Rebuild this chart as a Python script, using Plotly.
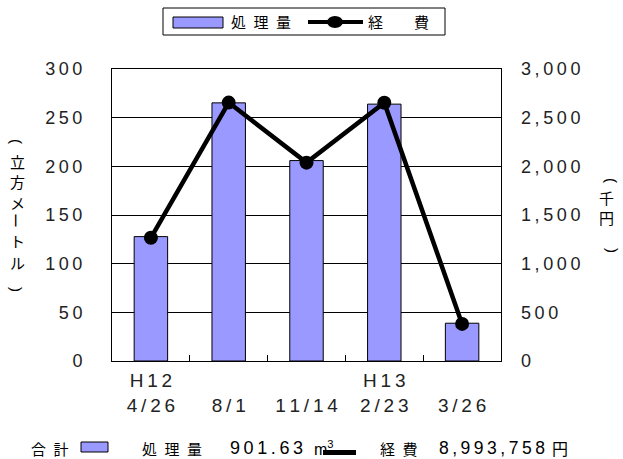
import plotly.graph_objects as go

categories = ["H12<br>4/26", "<br>8/1", "<br>11/14", "H13<br>2/23", "<br>3/26"]
volume = [127.8, 265.2, 205.9, 263.9, 38.83]      # 処理量 (立方メートル)
cost = [1266, 2655, 2038, 2654, 381]              # 経費 (千円)
left_ticks = [0, 50, 100, 150, 200, 250, 300]
right_ticks = [0, 500, 1000, 1500, 2000, 2500, 3000]
left_title = ["(", "立", "方", "メ", "ー", "ト", "ル", ")"]
right_title = ["(", "千", "円", ")"]
ROTATED = {"(", ")", "ー"}

FONT = "Noto Sans CJK JP"
NUM = "Liberation Sans"
BAR = "#9999ff"
SP = "\u2009"
EN = "\u2002"

# plot area in pixels (for converting layout positions)
L, T, W, H = 112, 69, 389, 292


def px(x):
    return (x - L) / W


def py(y):
    return (T + H - y) / H


def spaced(s, sep=SP):
    return sep.join(s)


fig = go.Figure()
fig.add_trace(go.Bar(
    x=categories, y=volume, name="処理量",
    marker=dict(color=BAR, line=dict(color="black", width=1)),
    width=0.43, yaxis="y", showlegend=False,
))
fig.add_trace(go.Scatter(
    x=categories, y=cost, name="経　費", mode="lines+markers",
    line=dict(color="black", width=4.5),
    marker=dict(color="black", size=14),
    yaxis="y2", showlegend=False,
))

fig.update_layout(
    width=623, height=459,
    margin=dict(l=L, r=623 - L - W, t=T, b=459 - T - H, autoexpand=False),
    paper_bgcolor="white", plot_bgcolor="white",
    font=dict(family=FONT, size=14, color="black"),
    showlegend=False,
    xaxis=dict(
        type="category", showgrid=False, ticks="inside", tickson="boundaries",
        ticklen=6, tickcolor="black", showline=True, linecolor="black",
        mirror=True, tickfont=dict(family=NUM, size=19, color="#222"),
        tickvals=categories, tickangle=0, ticklabelstandoff=2,
        ticktext=["<br>".join(spaced(p) for p in c.split("<br>")) for c in categories],
    ),
    yaxis=dict(
        range=[0, 300], tickvals=left_ticks, ticktext=[spaced(str(v)) for v in left_ticks],
        showgrid=True, gridcolor="black",
        gridwidth=1, showline=True, linecolor="black", mirror=True,
        tickfont=dict(family=NUM, size=18, color="#222"),
        ticks="", zeroline=False, ticklabelstandoff=25,
    ),
    yaxis2=dict(
        range=[0, 3000], tickvals=right_ticks,
        ticktext=[spaced(f"{v:,}") for v in right_ticks],
        overlaying="y", side="right",
        showgrid=False, zeroline=False, ticklabelstandoff=19,
        tickfont=dict(family=NUM, size=18, color="#222"),
    ),
)


def note(text, x, y, xanchor="left", font=FONT, size=15, angle=0):
    fig.add_annotation(text=text, xref="paper", yref="paper", x=x, y=y,
                       xanchor=xanchor, yanchor="middle", showarrow=False,
                       textangle=angle,
                       font=dict(family=font, size=size, color="black"), align="center")


def rect(x0, x1, y0, y1, fill, lw=1):
    fig.add_shape(type="rect", xref="paper", yref="paper",
                  x0=px(x0), x1=px(x1), y0=py(y1), y1=py(y0),
                  fillcolor=fill, line=dict(color="black", width=lw))


# ---- manual top legend (wide bar swatch like the reference) ----
rect(163, 445, 8, 35, "white")
rect(173, 223, 17, 28, BAR)
note(spaced("処理量", EN), px(229), py(22))
fig.add_shape(type="line", xref="paper", yref="paper", x0=px(308), x1=px(363),
              y0=py(22), y1=py(22), line=dict(color="black", width=4))
fig.add_shape(type="circle", xref="paper", yref="paper", x0=px(327), x1=px(343),
              y0=py(28), y1=py(16), fillcolor="black", line=dict(color="black", width=0))
note("経", px(366), py(22))
note("費", px(412), py(22))


# ---- vertical axis titles (one character per row) ----
def vchar(ch, x, y):
    if ch in ROTATED:
        note(ch, px(x), py(y), "center", font=NUM if ch in "()" else FONT,
             size=15, angle=90)
    else:
        note(ch, px(x), py(y), "center", size=15)


left_y = [141, 161, 181, 202, 220, 240, 262, 289]
for ch, yy in zip(left_title, left_y):
    vchar(ch, 17, yy)
right_y = [180, 197, 218, 250]
right_x = [612, 606, 606, 612]
for ch, xx, yy in zip(right_title, right_x, right_y):
    vchar(ch, xx, yy)

# ---- bottom summary line ----
YB = py(448)
note(spaced("合計", EN), px(71), YB, "right")
rect(81, 108, 442, 452, BAR)
note(spaced("処理量", EN), px(140), YB)
note(spaced("901.63"), px(228), YB, font=NUM, size=18)
note("m<sup>3</sup>", px(312), YB, font=NUM, size=16)
rect(323, 356, 450, 455, "black", 0)
note(spaced("経費", EN), px(378), YB)
note(spaced("8,993,758"), px(437), YB, font=NUM, size=17.5)
note("円", px(550), YB, size=16)

fig.write_html("out.html", config={"displayModeBar": False},
               post_script="document.body.style.margin='0';")
